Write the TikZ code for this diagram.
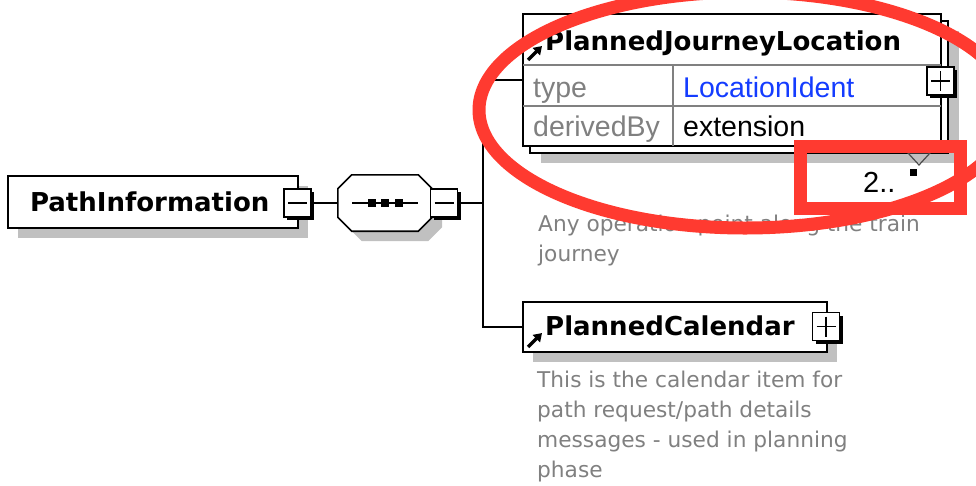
\documentclass[tikz,border=0pt]{standalone}
\usepackage{fontspec}
\setmainfont{DejaVu Sans}
\newfontfamily\rowfont{Liberation Sans}
\usepackage{tikz}
\usetikzlibrary{calc,arrows.meta,shadows}
\usepackage{xcolor}
\definecolor{marcador}{RGB}{255,58,48}
\definecolor{sombra}{RGB}{192,192,192}
\definecolor{textogris}{RGB}{128,128,128}
\definecolor{enlace}{RGB}{20,60,255}

\begin{document}
\begin{tikzpicture}[x=1pt,y=-1pt,
  conn/.style={line width=1.6pt},
  elem/.style={draw,fill=white,line width=1.6pt,rectangle,inner sep=0pt},
  sombreado/.style={drop shadow={shadow xshift=10pt,shadow yshift=-10pt,fill=sombra,opacity=1}},
  title/.style={font=\fontsize{26}{30}\selectfont\bfseries,inner sep=0pt},
  attr/.style={font=\rowfont\fontsize{28.5}{32}\selectfont,inner sep=0pt},
  desc/.style={font=\fontsize{21.7}{30}\selectfont,text=textogris,align=left,inner sep=0pt},
  togglebox/.style={draw,fill=white,line width=1.4pt,minimum width=27pt,minimum height=28pt,inner sep=0pt,
    drop shadow={shadow xshift=3pt,shadow yshift=-3pt,fill=black,opacity=1}},
  minusbox/.style={togglebox,path picture={
    \draw[line width=1.4pt] ([xshift=4pt]path picture bounding box.west) -- ([xshift=-4pt]path picture bounding box.east);}},
  plusbox/.style={togglebox,path picture={
    \draw[line width=1.4pt] ([xshift=4pt]path picture bounding box.west) -- ([xshift=-4pt]path picture bounding box.east);
    \draw[line width=1.4pt] ([yshift=-4pt]path picture bounding box.north) -- ([yshift=4pt]path picture bounding box.south);}},
  refarrow/.style={line width=3.5pt,-{Triangle[length=8pt,width=10pt]}},
  rowline/.style={draw=gray,line width=1.4pt},
  marcado/.style={draw=marcador,line width=13pt}]
  \clip (0,0) rectangle (976,485);
  % Elemento raiz PathInformation con su secuencia
  \node[title,elem,sombreado,minimum width=290pt,minimum height=52pt,text width=246pt,
    align=left,inner xsep=22pt] (pathinfo) at (153,202) {PathInformation};
  \node[minusbox] (pathtog) at (297.5,203) {};
  \node[minimum width=94pt,minimum height=56pt,inner sep=0pt] (seq) at (385,203) {};
  \draw[elem,sombreado] ([yshift=-14pt]seq.north west) -- ([xshift=14pt]seq.north west)
    -- ([xshift=-14pt]seq.north east) -- ([yshift=-14pt]seq.north east)
    -- ([yshift=14pt]seq.south east) -- ([xshift=-14pt]seq.south east)
    -- ([xshift=14pt]seq.south west) -- ([yshift=14pt]seq.south west) -- cycle;
  \draw[conn] ([xshift=-33pt]seq.center) -- ([xshift=33pt]seq.center);
  \foreach \d in {-13.5,0,13.5}{
    \fill ([xshift=\d pt]seq.center) +(-4,-4) rectangle +(4,4);
  }
  \node[minusbox] (seqtog) at (444,203) {};
  \coordinate (fork) at (483,203);
  \draw[conn] (pathtog.east) -- (seq.west);
  \draw[conn] (seqtog.east) -- (fork);
  % PlannedJourneyLocation (2..*), con tipo y derivacion
  \node[elem,minimum width=418pt,minimum height=132pt,
    drop shadow={shadow xshift=18pt,shadow yshift=-17pt,fill=sombra,opacity=1},
    copy shadow={shadow xshift=7pt,shadow yshift=-7pt,draw=black,fill=white,line width=1.6pt}] (pjl) at (732,80) {};
  \draw[rowline] (523,65) -- (941,65);
  \draw[rowline] (523,106) -- (941,106);
  \draw[rowline] (673,65) -- (673,146);
  \node[title,anchor=base west] (pjltitle) at (545,50) {PlannedJourneyLocation};
  \draw[refarrow] (528,60) -- (542,46);
  \node[attr,text=textogris,anchor=base west] (pjltype) at (533,97) {type};
  \node[attr,text=enlace,anchor=base west] (pjltypeval) at (683,97) {LocationIdent};
  \node[attr,text=textogris,anchor=base west] (pjlderiv) at (533,136) {derivedBy};
  \node[attr,anchor=base west] (pjlderivval) at (683,136) {extension};
  \node[plusbox] (pjltog) at (940.5,81) {};
  \draw[gray!60!black,line width=1.2pt] (908,153) -- (930,153) -- (919,165) -- cycle;
  \fill (909.5,168.5) rectangle (916.5,175.5);
  \node[attr,font=\rowfont\fontsize{29}{32}\selectfont,anchor=base west] (pjlmult) at (863,192) {2..};
  \node[desc,anchor=north west] (pjldesc) at (538,215) {Any operation point along the train\\journey};
  % PlannedCalendar
  \node[elem,sombreado,minimum width=304pt,minimum height=50pt] (cal) at (675,327) {};
  \node[title,anchor=base west] (caltitle) at (545,335) {PlannedCalendar};
  \draw[refarrow] (528,347) -- (542,333);
  \node[plusbox] (caltog) at (826,326.5) {};
  \node[desc,anchor=north west] (caldesc) at (537,371) {This is the calendar item for\\path request/path details\\messages - used in planning\\phase};
  \draw[conn] (fork) |- (pjl.west);
  \draw[conn] (fork) |- (cal.west);
  % marcas rojas encima
  \draw[marcado] (745,110) ellipse [x radius=266pt,y radius=118pt];
  \draw[marcado] (800,146) rectangle (960,208);
\end{tikzpicture}
\end{document}
